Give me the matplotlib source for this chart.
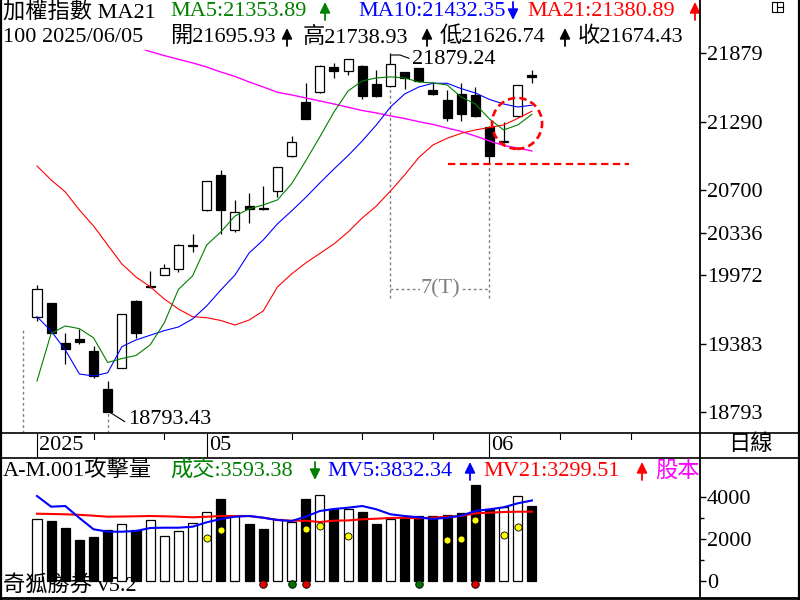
import numpy as np
import matplotlib.pyplot as plt
from matplotlib.patches import Rectangle, Ellipse, FancyArrowPatch
from matplotlib.lines import Line2D

plt.rcParams['font.family'] = ['Liberation Serif', 'Noto Sans CJK TC']

# 加權指數 日線 K 棒 (讀自圖上)
opens = [19610, 19733, 19386, 19421, 19320, 18993, 19171, 19750, 19868, 19971,
         20022, 20220, 20529, 20830, 20358, 20566, 20549, 20693, 20994, 21460,
         21544, 21759, 21724, 21770, 21615, 21595, 21716, 21750, 21564, 21478,
         21527, 21521, 21245, 21118, 21340, 21695.93]
highs = [19887, 19733, 19475, 19509, 19363, 19062, 19638, 19755, 20008, 20068,
         20240, 20326, 20785, 20876, 20618, 20676, 20738, 20903, 21166, 21621,
         21775, 21798, 21830, 21775, 21735, 21879.24, 21720, 21755, 21630, 21561,
         21624, 21589, 21250, 21291, 21610, 21738.93]
lows = [19580, 19472, 19206, 19380, 19088, 18793.43, 19171, 19434, 19862, 19971,
        20002, 20171, 20525, 20323, 20346, 20418, 20535, 20646, 20990, 21310,
        21540, 21664, 21690, 21489, 21503, 21590, 21572, 21630, 21523, 21297,
        21297, 21330, 20933, 21108, 21335, 21626.74]
closes = [19850, 19472, 19340, 19400, 19105, 18798, 19638, 19477, 19875, 20031,
          20231, 20228, 20781, 20529, 20512, 20543, 20538, 20899, 21114, 21317,
          21770, 21724, 21827, 21515, 21515, 21784, 21664, 21643, 21527, 21325,
          21355, 21337, 20999, 21124, 21604, 21674.43]

# 均線
ma5 = [19062, 19472, 19535, 19512, 19433, 19221, 19255, 19281, 19372, 19561,
       19849, 19965, 20231, 20343, 20480, 20541, 20575, 20618, 20756, 20953,
       21160, 21374, 21555, 21641, 21667, 21676, 21667, 21632, 21624, 21607,
       21503, 21443, 21314, 21220, 21263, 21353.89]
ma10 = [19615, 19492, 19329, 19122, 19105, 19133, 19357, 19415, 19455, 19495,
        19526, 19595, 19707, 19844, 19973, 20162, 20274, 20412, 20523, 20639,
        20764, 20884, 20999, 21125, 21263, 21417, 21529, 21589, 21621, 21621,
        21575, 21538, 21482, 21443, 21417, 21432.35]
ma21 = [20910, 20790, 20687, 20532, 20394, 20231, 20068, 19956, 19873, 19767,
        19681, 19615, 19606, 19582, 19543, 19586, 19664, 19870, 19982, 20076,
        20158, 20240, 20343, 20463, 20566, 20695, 20833, 20983, 21091, 21148,
        21191, 21220, 21241, 21263, 21319, 21380.89]
ma100 = [np.nan] * 7 + [21931, 21894, 21859, 21827, 21796, 21761, 21718, 21680,
                        21632, 21589, 21544, 21521, 21495, 21469, 21443, 21415,
                        21387, 21366, 21340, 21318, 21291, 21267, 21237, 21207,
                        21168, 21125, 21086, 21065, 21039]

# 成交量 (億)
volume = [2951, 2870, 2523, 1966, 2094, 2428, 2697, 2428, 2904, 2142,
          2380, 2745, 3284, 3918, 3094, 2713, 2490, 2937, 2808, 3918,
          4094, 3413, 3427, 3300, 2713, 2966, 3000, 3094, 3094, 3142,
          3253, 4570, 3413, 3508, 4032, 3593.38]
mv5 = [4046, 3537, 3570, 3000, 2461, 2347, 2347, 2380, 2523, 2537,
       2537, 2585, 2794, 2951, 3061, 3094, 3013, 2904, 2856, 3061,
       3332, 3427, 3489, 3570, 3413, 3175, 3094, 3032, 2951, 3013,
       3108, 3332, 3413, 3508, 3699, 3832.34]
mv21 = [3203, 3190, 3175, 3150, 3110, 3061, 3070, 3080, 3094, 3080,
        3060, 3032, 3060, 3094, 3094, 3094, 3013, 2904, 2870, 2870,
        2808, 2870, 2885, 2937, 2966, 3000, 3013, 2985, 3013, 3061,
        3094, 3223, 3251, 3284, 3299, 3299.51]
yellow_idx = [12, 13, 19, 20, 22, 29, 30, 31, 33, 34]
yellow_val = [2047, 2442, 2490, 2618, 2156, 1966, 2013, 2918, 2204, 2585]
red_dot_idx = [16, 19, 31]
green_dot_idx = [18, 27]

price_ticks = [21879, 21290, 20700, 20336, 19972, 19383, 18793]
vol_ticks = [4000, 2000, 0]
week_ticks = [4, 9, 18, 23, 28, 37, 42]
month_ticks = [0, 12, 32]
month_labels = ["2025", "05", "06"]

W, H = 800, 600
FS = 16
GREEN, BLUE, RED, MAG = '#008000', '#0000ff', '#ff0000', '#ff00ff'


def fx(x):
    return x / W


def fy(y):
    return 1 - y / H


fig = plt.figure(figsize=(8, 6), dpi=100)
fig.patch.set_facecolor('white')

xlim = (-37 / 14.14, (700 - 37) / 14.14)

ax = fig.add_axes([0, fy(433), 700 / W, (433 - 50) / H])
axv = fig.add_axes([0, fy(598), 700 / W, (598 - 458) / H])
for a in (ax, axv):
    a.set_xlim(*xlim)
    for s in a.spines.values():
        s.set_visible(False)
    a.yaxis.tick_right()
    a.tick_params(axis='x', bottom=False, labelbottom=False)
    a.tick_params(axis='y', which='both', direction='out', width=1,
                  pad=1, labelsize=FS)
    a.tick_params(axis='y', which='major', length=4)
    a.tick_params(axis='y', which='minor', length=3)

# ---- 主圖 K 線
ax.set_ylim(18615, 21907)
ax.set_yticks(price_ticks)
ax.set_yticklabels([str(t) for t in price_ticks])

n = len(closes)
idx = np.arange(n)
bw = 0.64
for i in range(n):
    up = closes[i] >= opens[i]
    ax.vlines(i, lows[i], highs[i], color='k', lw=0.9, zorder=2)
    lo = min(opens[i], closes[i])
    h = max(abs(closes[i] - opens[i]), 4)
    ax.add_patch(Rectangle((i - bw / 2, lo), bw, h,
                           facecolor='white' if up else 'black',
                           edgecolor='k', lw=0.9, zorder=3))

ax.plot(idx, ma100, color=MAG, lw=1.0, zorder=4)
ax.plot(idx, ma21, color=RED, lw=0.8, zorder=4)
ax.plot(idx, ma10, color=BLUE, lw=0.8, zorder=4)
ax.plot(idx, ma5, color=GREEN, lw=0.8, zorder=4)

# 高低點標示
ax.plot([25, 25.67, 26.3], [21864, 21864, 21836], color='k', lw=0.8)
ax.text(26.5, 21828, "21879.24", fontsize=FS, va='center', ha='left')
ax.plot([5.15, 6.2], [18793, 18713], color='k', lw=0.8)
ax.text(6.45, 18727, "18793.43", fontsize=FS, va='center', ha='left')

gray = '#808080'
dash = (0, (2, 2))
ax.vlines(5, 18615, 18790, color=gray, lw=1, linestyles=[dash])
ax.vlines(-1, 18615, 19509, color=gray, lw=1, linestyles=[dash])
ax.vlines(25, 19775, 21580, color=gray, lw=1, linestyles=[dash])
ax.vlines(32, 19775, 20919, color=gray, lw=1, linestyles=[dash])
ax.hlines(19853, 25, 32, color=gray, lw=1, linestyles=[dash])
ax.text(28.55, 19853, "7(T)", fontsize=FS, color=gray, va='center', ha='center',
        bbox=dict(facecolor='white', edgecolor='none', pad=0.5), zorder=5)

# 支撐虛線與圈選
ax.hlines(20925, 29.1, 41.9, color=RED, lw=1.6, linestyles=[(0, (3.3, 2))], zorder=5)
ax.add_patch(Ellipse((33.95, 21276), 3.54, 438, fill=False, edgecolor=RED,
                     lw=1.9, linestyle=(0, (2.8, 1.6)), zorder=6))

# ---- 副圖 成交量
axv.set_ylim(-809, 5855)
axv.set_yticks(vol_ticks)
axv.set_yticklabels([str(t) for t in vol_ticks])
axv.set_yticks([1000, 3000], minor=True)
vcolors = ['white' if c >= o else 'black' for o, c in zip(opens, closes)]
axv.bar(idx, volume, width=bw, color=vcolors, edgecolor='k', lw=0.9, zorder=2)
axv.plot(idx, mv21, color=RED, lw=1.5, zorder=3)
axv.plot(idx, mv5, color=BLUE, lw=1.5, zorder=3)
axv.scatter(yellow_idx, yellow_val, s=26, color='#ffff00', edgecolor='k',
            lw=0.6, zorder=4)
axv.scatter(red_dot_idx, [-150] * len(red_dot_idx), s=30, color='#e00000',
            edgecolor='k', lw=0.6, zorder=4, clip_on=False)
axv.scatter(green_dot_idx, [-150] * len(green_dot_idx), s=30, color='#007000',
            edgecolor='k', lw=0.6, zorder=4, clip_on=False)

# ---- 日期列
for t in week_ticks:
    fig.add_artist(Line2D([fx(37 + 14.14 * t)] * 2, [fy(434), fy(439)], color='k', lw=0.8))
for t, lab in zip(month_ticks, month_labels):
    x = 37 + 14.14 * t
    fig.add_artist(Line2D([fx(x)] * 2, [fy(434), fy(456)], color='k', lw=0.8))
    fig.text(fx(x + 2), fy(445), lab, fontsize=FS, va='center', ha='left')
fig.text(fx(750), fy(445), "日線", fontsize=FS, va='center', ha='center')

# ---- 框線
def hline(y, x1=0, x2=800, lw=1.2):
    fig.add_artist(Line2D([fx(x1), fx(x2)], [fy(y), fy(y)], color='k', lw=lw))


def vline(x, y1=0, y2=600, lw=1.2):
    fig.add_artist(Line2D([fx(x), fx(x)], [fy(y1), fy(y2)], color='k', lw=lw))


vline(0.8, lw=1.6)
vline(799.2, lw=1.6)
vline(700, 0, 598, lw=1.3)
hline(433.3)
hline(458.3)
hline(598, lw=2)

# 小圖示
fig.add_artist(Rectangle((fx(772), fy(12)), 11 / W, 10 / H, fill=False,
                         lw=0.8, transform=fig.transFigure))
vline(777, 2, 12, lw=0.8)
hline(7, 777, 783, lw=0.8)

# ---- 抬頭文字
def seg(x, y, s, c='k'):
    fig.text(fx(x), fy(y), s, fontsize=FS, color=c, va='center', ha='left')


def arrow(x, y, up, c='k'):
    # 漲跌箭頭: 細長箭頭, 高約 18px
    y0, y1 = (y + 9, y - 9) if up else (y - 9, y + 9)
    fig.add_artist(FancyArrowPatch((fx(x), fy(y0)), (fx(x), fy(y1)),
                                   transform=fig.transFigure,
                                   arrowstyle='-|>,head_length=0.45,head_width=0.22',
                                   mutation_scale=14, lw=1.3, color=c,
                                   shrinkA=0, shrinkB=0))


seg(3, 12, "加權指數 MA21")
seg(170, 12, "MA5:21353.89", GREEN)
arrow(325, 11, True, GREEN)
seg(358, 12, "MA10:21432.35", BLUE)
arrow(513, 11, False, BLUE)
seg(527, 12, "MA21:21380.89", RED)
arrow(695, 11, True, RED)

seg(3, 37, "100 2025/06/05")
seg(170, 37, "開21695.93")
arrow(287, 37, True)
seg(303, 37, "高21738.93")
arrow(427, 37, True)
seg(440, 37, "低21626.74")
arrow(565, 37, True)
seg(578, 37, "收21674.43")

seg(3, 471, "A-M.001攻擊量")
seg(170, 471, "成交:3593.38", GREEN)
arrow(315, 471, False, GREEN)
seg(327, 471, "MV5:3832.34", BLUE)
arrow(470, 471, True, BLUE)
seg(483, 471, "MV21:3299.51", RED)
arrow(642, 471, True, RED)
seg(655, 471, "股本", MAG)

seg(3, 586, "奇狐勝券 v5.2")

fig.savefig("out.png", dpi=100)
